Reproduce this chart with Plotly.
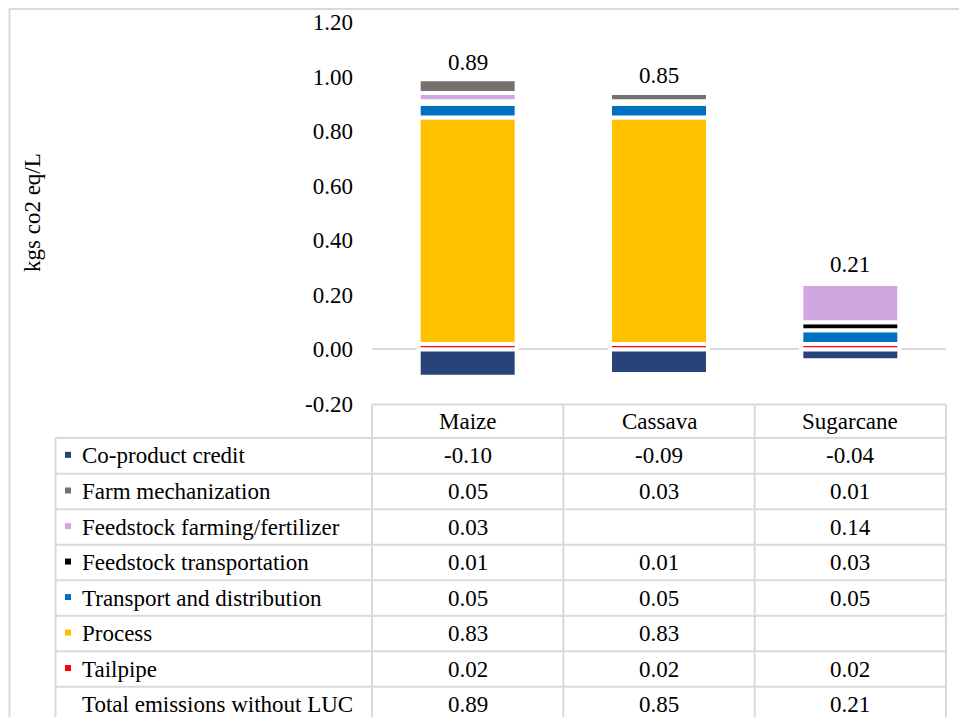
import plotly.graph_objects as go

# ---- data -------------------------------------------------------------
crops = ["Maize", "Cassava", "Sugarcane"]

co_product_credit = [-0.10, -0.09, -0.04]
farm_mechanization = [0.05, 0.03, 0.01]
feedstock_farming = [0.03, None, 0.14]
feedstock_transport = [0.01, 0.01, 0.03]
transport_distribution = [0.05, 0.05, 0.05]
process = [0.83, 0.83, None]
tailpipe = [0.02, 0.02, 0.02]
total_without_luc = [0.89, 0.85, 0.21]

y_tick_vals = [-0.2, 0.0, 0.2, 0.4, 0.6, 0.8, 1.0, 1.2]
y_tick_text = ["-0.20", "0.00", "0.20", "0.40", "0.60", "0.80", "1.00", "1.20"]

# series in table order (top to bottom) with colours
series = [
    ("Co-product credit", co_product_credit, "#264478"),
    ("Farm mechanization", farm_mechanization, "#767171"),
    ("Feedstock farming/fertilizer", feedstock_farming, "#CFA7E1"),
    ("Feedstock transportation", feedstock_transport, "#000000"),
    ("Transport and distribution", transport_distribution, "#0070C0"),
    ("Process", process, "#FFC000"),
    ("Tailpipe", tailpipe, "#FF0000"),
]

# ---- page geometry (pixels) -------------------------------------------
W, H = 959, 717
FONT = "Liberation Serif"
FS = 23
GRID = "#d9d9d9"

plot_x0, plot_x1 = 372, 946
plot_y0, plot_y1 = 22, 404          # top / bottom of the value axis

col_edges = [372, 563.3, 754.7, 946]
table_left = 55.5
row_edges = [404.5, 438, 473.7, 509.3, 544.8, 580.3, 615.8, 651.3, 686.8, 730]


def xp(px):
    return px / W


def yp(py):
    return 1 - py / H


fig = go.Figure()

# stacked bars: bottom-up order, the credit goes below zero
stack_order = ["Tailpipe", "Process", "Transport and distribution",
               "Feedstock transportation", "Feedstock farming/fertilizer",
               "Farm mechanization", "Co-product credit"]
lookup = {name: (vals, col) for name, vals, col in series}
for name in stack_order:
    vals, col = lookup[name]
    fig.add_trace(go.Bar(
        x=crops, y=vals, name=name,
        marker=dict(color=col, line=dict(color="white", width=4)),
        showlegend=False, hoverinfo="x+y+name",
    ))

txt_font = dict(family=FONT, size=FS, color="black")
shapes = []
annotations = []

# total labels above each stack
for i, crop in enumerate(crops):
    top = sum(v for _, vals, _ in series
              for v in [vals[i]] if v is not None and v > 0)
    annotations.append(dict(xref="x", yref="y", x=crop, y=top,
                            text=f"{total_without_luc[i]:.2f}", showarrow=False,
                            font=txt_font, xanchor="center", yanchor="middle",
                            yshift=17))

# outer frame of the chart area
shapes.append(dict(type="rect", xref="paper", yref="paper",
                   x0=xp(9.5), x1=xp(975), y0=yp(9), y1=yp(735),
                   line=dict(color=GRID, width=2), layer="below"))

# data table grid
line_style = dict(color=GRID, width=2)
# top border of header row (category columns only)
shapes.append(dict(type="line", xref="paper", yref="paper",
                   x0=xp(col_edges[0]), x1=xp(col_edges[-1]),
                   y0=yp(row_edges[0]), y1=yp(row_edges[0]), line=line_style))
# remaining horizontal rules span the full table
for ry in row_edges[1:-1]:
    shapes.append(dict(type="line", xref="paper", yref="paper",
                       x0=xp(table_left), x1=xp(col_edges[-1]),
                       y0=yp(ry), y1=yp(ry), line=line_style))
# vertical rules
for cx in col_edges:
    shapes.append(dict(type="line", xref="paper", yref="paper",
                       x0=xp(cx), x1=xp(cx),
                       y0=yp(row_edges[0]), y1=yp(row_edges[-1]), line=line_style))
shapes.append(dict(type="line", xref="paper", yref="paper",
                   x0=xp(table_left), x1=xp(table_left),
                   y0=yp(row_edges[1]), y1=yp(row_edges[-1]), line=line_style))

col_centers = [(col_edges[j] + col_edges[j + 1]) / 2 for j in range(3)]

# header row
hy = (row_edges[0] + row_edges[1]) / 2
for j, crop in enumerate(crops):
    annotations.append(dict(xref="paper", yref="paper", x=xp(col_centers[j]), y=yp(hy),
                            text=crop, showarrow=False, font=txt_font,
                            xanchor="center", yanchor="middle"))

# body rows
table_rows = [(name, vals, col) for name, vals, col in series]
table_rows.append(("Total emissions without LUC", total_without_luc, None))
for r, (name, vals, col) in enumerate(table_rows):
    cy = (row_edges[r + 1] + row_edges[r + 2]) / 2
    if r == len(table_rows) - 1:
        cy = row_edges[r + 1] + 17.5
    if col is not None:
        shapes.append(dict(type="rect", xref="paper", yref="paper",
                           x0=xp(65), x1=xp(71), y0=yp(cy - 4), y1=yp(cy + 2),
                           fillcolor=col, line=dict(width=0)))
    annotations.append(dict(xref="paper", yref="paper", x=xp(80), y=yp(cy),
                            text=name, showarrow=False, font=txt_font,
                            xanchor="left", yanchor="middle"))
    for j, v in enumerate(vals):
        if v is None:
            continue
        annotations.append(dict(xref="paper", yref="paper", x=xp(col_centers[j]), y=yp(cy),
                                text=f"{v:.2f}", showarrow=False, font=txt_font,
                                xanchor="center", yanchor="middle"))

# value-axis title
annotations.append(dict(xref="paper", yref="paper", x=xp(33), y=yp(213),
                        text="kgs co2 eq/L", textangle=-90, showarrow=False,
                        font=txt_font, xanchor="center", yanchor="middle"))

fig.update_layout(
    width=W, height=H,
    margin=dict(l=0, r=0, t=0, b=0, pad=0, autoexpand=False),
    paper_bgcolor="white", plot_bgcolor="white",
    barmode="relative", bargap=0.488,
    font=dict(family=FONT, size=FS, color="black"),
    xaxis=dict(domain=[xp(plot_x0), xp(plot_x1)], showticklabels=False,
               showgrid=False, zeroline=False, showline=False, ticks="",
               automargin=False),
    yaxis=dict(domain=[yp(plot_y1), yp(plot_y0)], range=[-0.2, 1.2],
               tickvals=y_tick_vals, ticktext=y_tick_text,
               showgrid=False, showline=False, ticks="",
               zeroline=True, zerolinecolor=GRID, zerolinewidth=2,
               ticklabelstandoff=18, automargin=False,
               tickfont=dict(family=FONT, size=FS, color="black")),
    shapes=shapes, annotations=annotations,
)

fig.write_html("out.html")
